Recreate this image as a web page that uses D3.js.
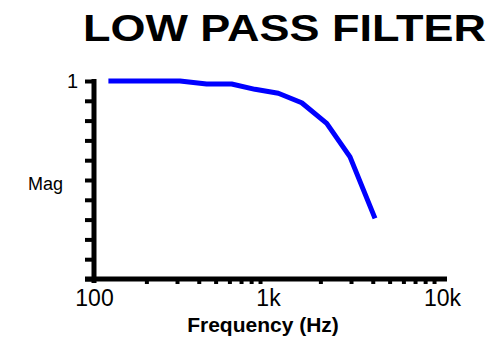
<!DOCTYPE html>
<html>
<head>
<meta charset="utf-8">
<script src="https://cdn.jsdelivr.net/npm/d3@7"></script>
<style>
  html, body { margin: 0; padding: 0; background: #fff; }
  svg { display: block; font-family: "Liberation Sans", Arial, sans-serif; }
</style>
</head>
<body>
<svg id="chart" width="490" height="339"></svg>
<script>
// ---- data ----
const freqs = [121, 312, 444, 618, 842, 1146, 1562, 2175, 2960, 4121];
const mags  = [1.0, 1.0, 0.985, 0.985, 0.958, 0.938, 0.89, 0.786, 0.617, 0.306];
const xTickValues = [100, 1000, 10000];
const xTickLabels = ["100", "1k", "10k"];
const xMinorTicks = [200, 300, 400, 500, 600, 700, 800, 900, 2000, 3000, 4000, 5000, 6000, 7000, 8000, 9000];
const yTickValues = [0, 0.1, 0.2, 0.3, 0.4, 0.5, 0.6, 0.7, 0.8, 0.9, 1];
const yTickLabels = ["", "", "", "", "", "", "", "", "", "", "1"];
const titleText = "LOW PASS FILTER";
const xLabel = "Frequency (Hz)";
const yLabel = "Mag";

// ---- layout ----
const svg = d3.select("#chart");
const x = d3.scaleLog().domain([100, 10000]).range([94, 442]);
const y = d3.scaleLinear().domain([0, 1]).range([279, 81]);

// title
svg.append("text")
  .attr("x", 83).attr("y", 41)
  .attr("font-size", 36).attr("font-weight", "bold")
  .attr("textLength", 403).attr("lengthAdjust", "spacingAndGlyphs")
  .text(titleText);

// y ticks
const yAxis = d3.axisLeft(y).tickValues(yTickValues).tickSize(9).tickSizeOuter(0)
  .tickFormat((d, i) => yTickLabels[i]);
const gy = svg.append("g").attr("transform", `translate(${x(100)},0)`).call(yAxis);
gy.select(".domain").remove();
gy.selectAll(".tick line").attr("stroke", "#000").attr("stroke-width", 4);
gy.selectAll(".tick text").attr("font-size", 20).attr("fill", "#000")
  .attr("font-family", "Liberation Sans, Arial, sans-serif").attr("x", -16);

// x minor ticks
const gxm = svg.append("g").attr("transform", `translate(0,${y(0)})`)
  .call(d3.axisBottom(x).tickValues(xMinorTicks).tickSize(5).tickSizeOuter(0).tickFormat(""));
gxm.select(".domain").remove();
gxm.selectAll(".tick line").attr("stroke", "#000").attr("stroke-width", 4);

// x labels
const gx = svg.append("g").attr("transform", `translate(0,${y(0)})`)
  .call(d3.axisBottom(x).tickValues(xTickValues).tickSize(0).tickSizeOuter(0)
    .tickFormat((d, i) => xTickLabels[i]));
gx.select(".domain").remove();
gx.selectAll(".tick text").attr("font-size", 23).attr("fill", "#000")
  .attr("font-family", "Liberation Sans, Arial, sans-serif")
  .attr("dy", null).attr("y", 26.5);

// axis lines
svg.append("line")
  .attr("x1", x(100)).attr("x2", x(100))
  .attr("y1", y(1) - 2).attr("y2", y(0) + 4)
  .attr("stroke", "#000").attr("stroke-width", 5);
svg.append("line")
  .attr("x1", x(100) - 9).attr("x2", x(10000) + 5)
  .attr("y1", y(0)).attr("y2", y(0))
  .attr("stroke", "#000").attr("stroke-width", 5);

// data line
const line = d3.line().x((d, i) => x(freqs[i])).y(d => y(d));
svg.append("path")
  .datum(mags)
  .attr("d", line)
  .attr("fill", "none")
  .attr("stroke", "#0000ff")
  .attr("stroke-width", 5)
  .attr("stroke-linejoin", "round");

// axis titles
svg.append("text")
  .attr("x", 263).attr("y", 332)
  .attr("text-anchor", "middle")
  .attr("font-size", 21).attr("font-weight", "bold")
  .text(xLabel);
svg.append("text")
  .attr("x", 28).attr("y", 190)
  .attr("font-size", 18)
  .text(yLabel);
</script>
</body>
</html>
